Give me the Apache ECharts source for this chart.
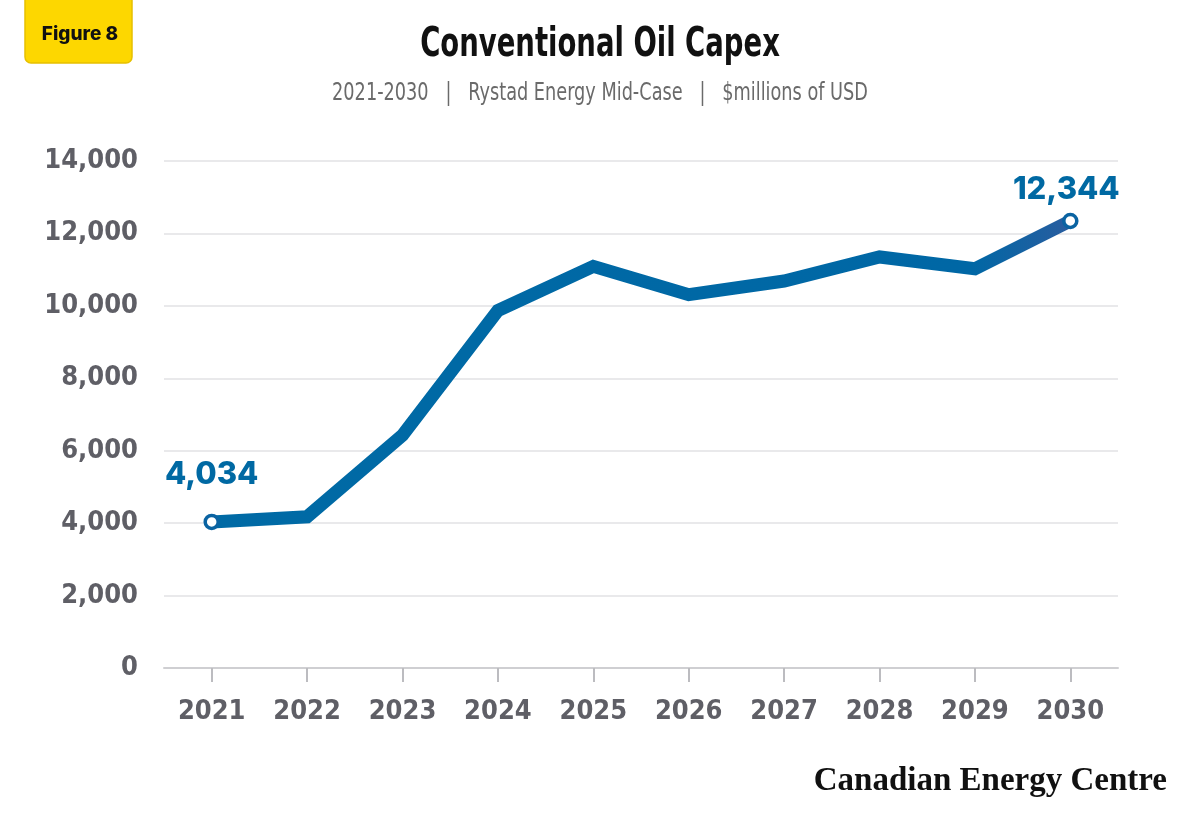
<!DOCTYPE html>
<html>
<head>
<meta charset="utf-8">
<script src="https://cdn.jsdelivr.net/npm/echarts@6/dist/echarts.min.js"></script>
<style>
html,body{margin:0;padding:0;background:#fff;}
#chart{width:1200px;height:825px;}
</style>
</head>
<body>
<div id="chart"></div>
<script>
const years = ['2021','2022','2023','2024','2025','2026','2027','2028','2029','2030'];
const capex = [4034, 4175, 6430, 9870, 11090, 10310, 10685, 11350, 11025, 12344];
const yTicks = [0, 2000, 4000, 6000, 8000, 10000, 12000, 14000];
const titleText = 'Conventional Oil Capex';
const subtitleText = '2021-2030   |   Rystad Energy Mid-Case   |   $millions of USD';
const badgeText = 'Figure 8';
const brandText = 'Canadian Energy Centre';

const condensed = '"DejaVu Sans Condensed", "Liberation Sans Narrow", "Roboto", sans-serif';
const fmt = v => Number(v).toLocaleString('en-US');

const lastIdx = capex.length - 1;
const seriesData = capex.map((v, i) => {
  if (i === 0) {
    return { value: v, symbol: 'circle', symbolSize: 13,
      label: { show: true, position: 'top', distance: 23 } };
  }
  if (i === lastIdx) {
    return { value: v, symbol: 'circle', symbolSize: 13,
      label: { show: true, position: 'top', distance: 8, offset: [-4, 0] } };
  }
  return { value: v, symbol: 'none' };
});

const chart = echarts.init(document.getElementById('chart'), null, { renderer: 'canvas' });
chart.setOption({
  backgroundColor: '#ffffff',
  animation: false,
  graphic: [
    { type: 'rect', shape: { x: 25, y: -10, width: 107, height: 73, r: 6 },
      style: { fill: '#fdd700', stroke: '#e6c000', lineWidth: 1.5 } },
    { type: 'text', x: 80, y: 34, style: { text: badgeText, align: 'center', verticalAlign: 'middle',
      font: '800 19px "Inter", "Lato", sans-serif', fill: '#111' } },
    { type: 'text', x: 600, y: 45, scaleX: 0.745, style: { text: titleText, align: 'center', verticalAlign: 'middle',
      font: 'bold 41px ' + condensed, fill: '#111' } },
    { type: 'text', x: 600, y: 94, scaleX: 0.82, style: { text: subtitleText, align: 'center', verticalAlign: 'middle',
      font: 'normal 24px ' + condensed, fill: '#6a6a6a' } },
    { type: 'text', x: 1167, y: 781, style: { text: brandText, align: 'right', verticalAlign: 'middle',
      font: 'bold 33px "Liberation Serif", "DejaVu Serif", serif', fill: '#111' } }
  ],
  grid: { left: 164, right: 82, top: 161, bottom: 157, containLabel: false },
  xAxis: {
    type: 'category',
    data: years,
    boundaryGap: true,
    axisLine: { show: true, lineStyle: { color: '#cfcfd2', width: 2 } },
    axisTick: { show: true, alignWithLabel: true, length: 14, lineStyle: { color: '#bcbcc0', width: 2 } },
    axisLabel: { margin: 30, fontFamily: condensed, fontWeight: 'bold', fontSize: 27, color: '#5f5f66' },
    splitLine: { show: false }
  },
  yAxis: {
    type: 'value',
    min: yTicks[0],
    max: yTicks[yTicks.length - 1],
    interval: 2000,
    axisLine: { show: false },
    axisTick: { show: false },
    axisLabel: { margin: 26, fontFamily: condensed, fontWeight: 'bold', fontSize: 27, color: '#5f5f66',
      formatter: v => fmt(v) },
    splitLine: { show: true, lineStyle: { color: '#e2e2e4', width: 1.5 } }
  },
  series: [{
    type: 'line',
    data: seriesData,
    showSymbol: true,
    symbol: 'none',
    lineStyle: {
      width: 13,
      join: 'miter',
      color: new echarts.graphic.LinearGradient(0, 0, 1, 0, [
        { offset: 0, color: '#006aa5' },
        { offset: 0.88, color: '#0067a5' },
        { offset: 1, color: '#2c5c9f' }
      ])
    },
    itemStyle: { color: '#ffffff', borderColor: '#0a63a2', borderWidth: 3.5 },
    label: {
      show: false,
      formatter: p => fmt(p.value),
      fontFamily: '"Inter", "Lato", sans-serif',
      fontWeight: 800,
      fontSize: 31,
      color: '#0069a3'
    },
    emphasis: { disabled: true },
    z: 3
  }]
});
</script>
</body>
</html>
